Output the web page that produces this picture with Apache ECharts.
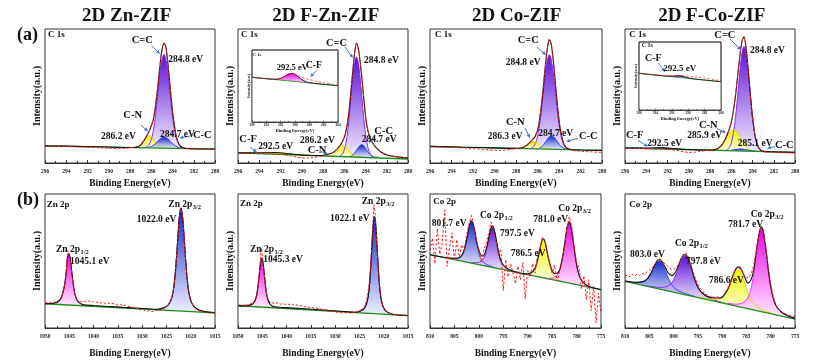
<!DOCTYPE html>
<html><head><meta charset="utf-8">
<script src="https://cdn.jsdelivr.net/npm/echarts@6/dist/echarts.min.js"></script>
<style>html,body{margin:0;padding:0;background:#fff}#c{width:830px;height:364px}</style>
</head><body><div id="c"></div>
<script>
// ===================== DATA =====================
// axis ranges [min, max, step]
const c1sRange = [280, 296, 2];
const zn2pRange = [1015, 1050, 5];
const co2pRange = [775, 810, 5];
const inset2Range = [284, 296, 2];
const inset4Range = [286, 296, 2];

// ---- (a) 2D Zn-ZIF, C 1s ----
const a1Base = [[296,12.8],[280,10.4]];
const a1CeqC = [[287.0,11.45],[286.5,11.7],[286.1,15.4],[285.8,24.5],[285.6,35.4],[285.4,49.7],[285.2,64.9],[285.0,76.6],[284.8,81],[284.6,76.6],[284.4,64.9],[284.2,49.7],[284.0,35.4],[283.8,24.5],[283.5,15.4],[283.1,11.6],[282.6,10.8]];
const a1CN = [[287.6,11.6],[287.4,11.7],[287.1,12.5],[286.8,15],[286.5,18.6],[286.2,20.4],[285.9,18.6],[285.6,15],[285.3,12.5],[285.0,11.5],[284.7,11.2]];
const a1CC = [[286.6,11.3],[286.4,11.45],[286.0,12.3],[285.6,14.5],[285.2,17.7],[284.8,19.4],[284.4,17.7],[284.0,14.5],[283.6,12.2],[283.2,11.2],[282.8,10.9]];
const a1Env = [[296,12.8],[293,12.4],[290,11.9],[288,11.6],[287.5,11.6],[287.0,13.3],[286.6,17.9],[286.2,23.6],[285.8,32.5],[285.5,48.5],[285.2,71],[285.0,84],[284.8,89.4],[284.6,85.5],[284.3,63.2],[284.0,38.7],[283.7,22],[283.4,14.2],[283.0,11.3],[282.5,10.8],[280,10.4]];
const a1Raw = [[296,12.4],[295,12.5],[294,12.3],[293,12.0],[292,11.8],[291,11.4],[290,11.0],[289,10.7],[288.5,10.9],[288,11.4],[287.5,12],[287.0,13.8],[286.6,18],[286.2,23.8],[285.8,33],[285.5,49],[285.2,71.5],[285.0,84.5],[284.8,89.8],[284.6,85],[284.3,63],[284.0,38.5],[283.7,22],[283.4,14],[283.0,11],[282.5,10.5],[282,10.4],[281,10.3],[280,10.2]];

// ---- (a) 2D F-Zn-ZIF, C 1s ----
const a2Base = [[296,7.5],[280,3.0]];
const a2CF = [[296,7.55],[295.5,7.45],[294.5,7.4],[293.5,7.7],[292.5,7.8],[291.5,7.2],[290.5,6.3],[289.5,5.75],[289,5.6]];
const a2CeqC = [[286.95,5.0],[286.55,4.9],[286.15,7],[285.85,14.6],[285.65,25.2],[285.45,40.9],[285.25,58.8],[285.05,73.4],[284.85,79.1],[284.65,73.4],[284.45,58.6],[284.25,40.7],[284.05,25],[283.85,14.4],[283.55,6.8],[283.15,4.5],[282.75,4.3]];
const a2CN = [[287.8,5.2],[287.4,5.05],[287.0,6.3],[286.7,8.7],[286.4,11.5],[286.1,12.9],[285.8,11.5],[285.5,8.7],[285.2,6.3],[284.8,5.0],[284.5,4.4]];
const a2CC = [[285.55,4.55],[285.25,5.6],[284.95,8.2],[284.65,11.9],[284.35,13.7],[284.05,11.7],[283.75,8.0],[283.45,5.4],[283.15,4.0]];
const a2Env = [[296,7.55],[294,7.55],[292.5,7.8],[291,6.7],[289.5,5.75],[288.5,5.6],[288,5.8],[287.5,6.5],[287.0,8.0],[286.6,11],[286.2,15.5],[285.9,21.5],[285.6,35],[285.3,59.5],[285.05,80],[284.85,89.5],[284.65,84],[284.4,68],[284.15,47],[283.9,29],[283.6,19],[283.3,14.5],[283.0,11.5],[282.5,8],[282,6],[281,4.6],[280,3.8]];
const a2Raw = [[296,7.3],[295,7.4],[294,7.2],[293,6.9],[292,6.5],[291,5.3],[290.5,4.5],[290,3.9],[289.5,3.7],[289,4.0],[288.5,4.6],[288,5.4],[287.5,6.4],[287.0,8.2],[286.6,11.5],[286.2,16],[285.9,22],[285.6,35.5],[285.3,60],[285.05,80.5],[284.85,89.8],[284.65,84.5],[284.4,68],[284.15,47.5],[283.9,29.5],[283.6,19.3],[283.3,14.3],[283.0,11.2],[282.5,7.8],[282,5.8],[281,4.5],[280,3.6]];
const a2InsetBase = [[296,62],[284,50.4]];
const a2InsetCF = [[294,60.1],[293.4,59.55],[292.8,59.3],[292.2,59.9],[291.6,62.45],[291.0,66.1],[290.4,67.6],[289.8,64.9],[289.2,60.1],[288.6,56.45],[288.0,54.6],[287.4,53.75],[286.8,53.1]];
const a2InsetEnv = [[296,62],[294,60.1],[293.4,59.55],[292.8,59.3],[292.2,59.9],[291.6,62.45],[291.0,66.1],[290.4,67.6],[289.8,64.9],[289.2,60.1],[288.6,56.45],[288.0,54.6],[287.4,53.75],[286,52.3],[284,50.4]];
const a2InsetRaw = [[296,62.5],[295,61.3],[294,60.4],[293,59.8],[292,60.5],[291,64.5],[290.5,66.5],[290,66],[289.5,64],[289,62],[288.5,60.5],[288,59],[287,56.5],[286,54.5],[285,52.8],[284,51.2]];

// ---- (a) 2D Co-ZIF, C 1s ----
const a3Base = [[296,12.4],[280,9.4]];
const a3CeqC = [[287.0,10.65],[286.6,10.9],[286.2,14.6],[285.9,23.8],[285.7,34.8],[285.5,49.2],[285.3,64.4],[285.1,76.3],[284.9,80.8],[284.7,76.3],[284.5,64.4],[284.3,49.2],[284.1,34.8],[283.9,23.8],[283.6,14.6],[283.2,10.8],[282.8,10.0]];
const a3CN = [[288.1,10.9],[287.7,10.85],[287.3,11.7],[287.0,13.3],[286.7,15.2],[286.4,16.1],[286.1,15.2],[285.8,13.3],[285.5,11.7],[285.1,10.8],[284.7,10.3]];
const a3CC = [[286.4,10.55],[286.0,10.6],[285.6,12.3],[285.3,15.2],[285.0,18.7],[284.7,20.4],[284.4,18.7],[284.1,15.2],[283.8,12.3],[283.4,10.5],[283.0,10.1]];
const a3Env = [[296,12.4],[293,11.8],[290,11.3],[288,10.9],[287.5,11.2],[287.0,13.3],[286.6,16.3],[286.2,20],[285.9,27.8],[285.6,45.3],[285.3,70],[285.1,84.5],[284.9,92],[284.7,87.5],[284.5,74],[284.3,56.4],[284.1,39.6],[283.9,26.4],[283.6,15.3],[283.3,11.2],[282.8,9.9],[282,9.7],[280,9.4]];
const a3Raw = [[296,12.0],[295,11.9],[294,11.6],[293,11.3],[292,10.8],[291,10.1],[290,9.5],[289.5,9.3],[289,9.6],[288.5,10.2],[288,10.8],[287.5,11.3],[287.0,13.4],[286.6,16.5],[286.2,20.3],[285.9,28],[285.6,45.5],[285.3,70.5],[285.1,85],[284.9,92.5],[284.7,88],[284.5,74],[284.3,56],[284.1,39],[283.9,26],[283.6,15],[283.3,10.8],[282.8,9.4],[282,8.8],[281,8.3],[280,7.9]];

// ---- (a) 2D F-Co-ZIF, C 1s ----
const a4Base = [[296,11.2],[280,7.9]];
const a4CF = [[295.5,11.1],[295,11.03],[294,11.05],[293,11.3],[292.5,11.28],[292,11.08],[291,10.44],[290,10.0],[289.5,9.9]];
const a4CeqC = [[286.9,9.35],[286.5,9.4],[286.1,12.7],[285.8,22.1],[285.6,33.9],[285.4,50],[285.2,67.6],[285.0,81.5],[284.8,87],[284.6,81.5],[284.4,67.6],[284.2,50],[284.0,33.9],[283.8,22.1],[283.5,12.7],[283.1,9.3],[282.7,8.5]];
const a4CN = [[288.4,9.7],[287.8,9.5],[287.4,10.1],[287.0,12.4],[286.6,17],[286.2,22.3],[285.8,24.8],[285.4,22.1],[285.0,16.6],[284.6,12],[284.2,9.8],[283.8,9.0],[283.4,8.7]];
const a4CC = [[287,9.3],[286.4,9.2],[285.8,9.8],[285.1,10.45],[284.4,9.6],[283.8,8.8],[283.2,8.6]];
const a4Env = [[296,11.2],[294,11.05],[292.5,11.3],[291,10.45],[289.5,9.9],[288.5,9.6],[287.5,10.0],[287.0,12.4],[286.6,17.2],[286.2,24.8],[285.9,34.1],[285.6,50],[285.3,72],[285.0,90.5],[284.8,94],[284.6,85.5],[284.3,60.5],[284.0,34.3],[283.7,17.8],[283.4,11],[283.0,8.7],[282,8.3],[280,7.9]];
const a4Raw = [[296,10.8],[295,10.9],[294,10.8],[293,10.6],[292,10.2],[291,9.3],[290.5,8.4],[290,7.9],[289.5,8.0],[289,8.6],[288.5,9.2],[288,9.6],[287.5,10.1],[287.0,12.6],[286.6,17.5],[286.2,25],[285.9,34],[285.6,50.5],[285.3,72.5],[285.0,90.8],[284.8,94.5],[284.6,85],[284.3,60],[284.0,34],[283.7,17.5],[283.4,10.8],[283.0,8.4],[282,7.9],[281,7.6],[280,7.4]];
const a4InsetBase = [[296,53.9],[286,41.6]];
const a4InsetCF = [[292.6,49.72],[292.2,49.57],[291.8,49.75],[291.4,50.24],[291.0,50.25],[290.6,49.26],[290.2,47.79],[289.8,46.6],[289.4,45.8]];
const a4InsetEnv = [[296,53.9],[292.6,49.75],[292.2,49.6],[291.8,49.8],[291.4,50.3],[291.0,50.3],[290.6,49.3],[290.2,47.8],[289.8,46.6],[289.4,45.8],[286,41.6]];
const a4InsetRaw = [[296,54.5],[295,52.5],[294,51.8],[293,50.8],[292,50.3],[291,50.8],[290,49.5],[289,48.4],[288,47],[287,45],[286,43]];

// ---- (b) 2D Zn-ZIF, Zn 2p ----
const b1Base = [[1050,18.1],[1015,11.3]];
const b1Zn12 = [[1048.8,17.9],[1048.1,18.5],[1047.3,19.5],[1046.7,22.1],[1046.3,26.6],[1045.9,33.4],[1045.6,42.5],[1045.4,51.7],[1045.1,55.4],[1044.8,51.6],[1044.5,42.3],[1044.2,33.1],[1043.9,26.1],[1043.5,21.4],[1042.9,18.6],[1042.1,17.3],[1041.2,16.5]];
const b1Zn32 = [[1027,13.65],[1025.6,14.9],[1024.64,17.0],[1023.92,22.3],[1023.44,31.4],[1023.08,45.2],[1022.72,63.5],[1022.36,81.9],[1022.0,89.5],[1021.64,81.7],[1021.28,63.2],[1020.92,44.8],[1020.56,30.8],[1020.08,21.5],[1019.36,16.0],[1018.4,13.5],[1017,11.8]];
const b1Env = [[1050,18.2],[1049,18.1],[1048.1,18.6],[1047.3,19.6],[1046.7,22.2],[1046.3,26.7],[1045.9,33.5],[1045.6,42.6],[1045.4,51.8],[1045.1,55.5],[1044.8,51.7],[1044.5,42.4],[1044.2,33.2],[1043.9,26.2],[1043.5,21.5],[1042.9,18.7],[1042.1,17.4],[1040,16.8],[1037,16.1],[1034,15.4],[1030,14.6],[1027,14.0],[1025.6,15.1],[1024.64,17.2],[1023.92,22.4],[1023.44,31.5],[1023.08,45.3],[1022.72,63.6],[1022.36,82],[1022.0,89.6],[1021.64,81.8],[1021.28,63.3],[1020.92,44.9],[1020.56,30.9],[1020.08,21.6],[1019.36,16.1],[1018.4,13.6],[1017,12.2],[1015,11.4]];
const b1Raw = [[1050,18.5],[1049.5,19.2],[1049,18.8],[1048.5,19.6],[1048,19.2],[1047.5,20.3],[1047,21],[1046.5,24],[1046,30],[1045.6,43],[1045.3,57.9],[1045.0,55],[1044.7,48],[1044.4,38],[1044,28],[1043.5,21.5],[1043,20],[1042.5,19.5],[1042,20.3],[1041.5,19.4],[1041,20.2],[1040.5,19.1],[1040,19.8],[1039.5,18.8],[1039,19.5],[1038.5,18.6],[1038,19.1],[1037.5,18.2],[1037,18.7],[1036.5,17.8],[1036,18.3],[1035.5,17.5],[1035,17.1],[1034.5,17.6],[1034,16.5],[1033.5,16.9],[1033,15.9],[1032.5,16.2],[1032,15.2],[1031.5,15.6],[1031,14.4],[1030.5,13.6],[1030,14.1],[1029.5,13.0],[1029,12.5],[1028.5,13.1],[1028,12.2],[1027.5,12.8],[1027,13.2],[1026.5,13.0],[1026,13.6],[1025.5,14.5],[1025,16],[1024.5,17.5],[1024,21],[1023.5,30],[1023.1,45],[1022.7,64],[1022.4,82],[1022.1,89.8],[1021.8,86],[1021.5,77],[1021.2,58],[1020.9,43],[1020.5,29],[1020,20.5],[1019.5,16.5],[1019,14.5],[1018.5,13.2],[1018,12.4],[1017.5,12.8],[1017,11.6],[1016.5,12.1],[1016,11.0],[1015.5,11.6],[1015,10.6]];

// ---- (b) 2D F-Zn-ZIF, Zn 2p ----
const b2Base = [[1050,16.6],[1015,9.2]];
const b2Zn12 = [[1048.5,16.3],[1047.7,16.9],[1047.0,17.8],[1046.49,20.3],[1046.14,24.6],[1045.88,31.2],[1045.62,39.9],[1045.36,48.6],[1045.1,52.2],[1044.84,48.5],[1044.58,39.7],[1044.32,30.8],[1044.06,24.1],[1043.71,19.7],[1043.2,17.0],[1042.5,15.7],[1041.5,15.1]];
const b2Zn32 = [[1026,11.5],[1024.7,12.7],[1023.95,14.7],[1023.4,19.7],[1023.02,28.3],[1022.74,41.3],[1022.46,58.7],[1022.18,76.0],[1021.9,83.3],[1021.62,75.9],[1021.34,58.4],[1021.06,41.0],[1020.78,27.8],[1020.4,19.1],[1019.85,13.8],[1019.1,11.5],[1018,10.0]];
const b2Env = [[1050,16.7],[1049,16.5],[1048,16.4],[1047.7,16.95],[1047.0,17.85],[1046.49,20.35],[1046.14,24.65],[1045.88,31.25],[1045.62,39.95],[1045.36,48.65],[1045.1,52.25],[1044.84,48.55],[1044.58,39.75],[1044.32,30.85],[1044.06,24.15],[1043.71,19.75],[1043.2,17.05],[1042.5,15.8],[1040,15.2],[1037,14.5],[1034,13.8],[1031,13.0],[1028,12.3],[1026,11.7],[1024.7,12.8],[1023.95,14.8],[1023.4,19.8],[1023.02,28.4],[1022.74,41.4],[1022.46,58.8],[1022.18,76.1],[1021.9,83.4],[1021.62,76],[1021.34,58.5],[1021.06,41.1],[1020.78,27.9],[1020.4,19.2],[1019.85,13.9],[1019.1,11.6],[1018,10.1],[1015,9.3]];
const b2Raw = [[1050,16.8],[1049.5,17.4],[1049,16.9],[1048.5,17.6],[1048,17.2],[1047.5,17.9],[1047,18.6],[1046.5,21],[1046.1,26],[1045.8,34],[1045.5,46],[1045.2,59.7],[1044.95,53],[1044.7,44],[1044.4,33],[1044.1,25],[1043.7,20.5],[1043.3,19],[1042.8,18.7],[1042.3,18.2],[1041.8,18.9],[1041.3,17.7],[1040.8,18.4],[1040.3,17.6],[1039.8,18.1],[1039.3,17.2],[1038.8,17.7],[1038.3,16.8],[1037.8,17.2],[1037.3,16.3],[1036.8,16.7],[1036.3,15.8],[1035.8,16.1],[1035.3,15.3],[1034.8,15.5],[1034.3,14.6],[1033.8,14.9],[1033.3,13.9],[1032.8,14.2],[1032.3,13.3],[1031.8,13.6],[1031.3,12.7],[1030.8,12.1],[1030.3,12.6],[1029.8,11.6],[1029.3,12.2],[1028.8,11.3],[1028.3,11.8],[1027.8,11.2],[1027.3,11.5],[1026.8,11.0],[1026.3,11.4],[1025.8,11.9],[1025.3,12.3],[1024.8,13.2],[1024.3,14.5],[1023.9,16.5],[1023.5,21],[1023.1,30],[1022.8,42],[1022.5,60],[1022.2,80],[1022.0,92],[1021.75,85],[1021.5,68],[1021.2,50],[1020.9,35],[1020.6,24],[1020.2,17],[1019.8,13.8],[1019.3,12],[1018.8,11],[1018.3,10.6],[1017.8,10.1],[1017.3,10.4],[1016.8,9.7],[1016.3,10.0],[1015.8,9.3],[1015.3,9.6],[1015,9.0]];

// ---- (b) 2D Co-ZIF, Co 2p ----
const b3Base = [[810,54.7],[775,28.6]];
const b3Blue = [[806.5,52.1],[805.5,52.0],[804.43,52.1],[803.63,53.7],[803.1,57.0],[802.7,62.35],[802.3,69.55],[801.9,76.75],[801.5,79.6],[801.1,76.15],[800.7,68.35],[800.3,60.55],[799.9,54.65],[799.37,50.5],[798.57,47.7],[797.5,46.0],[796.5,44.6]];
const b3Purple = [[802.2,48.9],[801.2,48.75],[800.13,48.9],[799.33,50.4],[798.8,53.7],[798.4,58.9],[798.0,65.9],[797.6,72.95],[797.2,75.75],[796.8,72.35],[796.4,64.75],[796.0,57.1],[795.6,51.3],[795.07,47.2],[794.27,44.5],[793.2,42.8],[792.2,41.6]];
const b3Yellow = [[791.8,41.1],[790.8,40.36],[789.73,40.43],[788.93,41.86],[788.4,44.95],[788.0,49.9],[787.6,56.5],[787.2,63.2],[786.8,65.8],[786.4,62.6],[786.0,55.3],[785.6,48.1],[785.2,42.56],[784.67,38.7],[783.87,36.06],[782.8,34.4],[781.8,33.7]];
const b3Mag = [[786.9,37.5],[785.9,37.0],[784.73,37.56],[783.85,40.14],[783.26,45.26],[782.82,53.23],[782.38,64.0],[781.94,74.77],[781.5,79.04],[781.06,74.1],[780.62,62.68],[780.18,51.25],[779.74,42.62],[779.15,36.62],[778.27,32.74],[777.1,30.47],[776.1,29.5]];
const b3Env = [[810,54.7],[807,52.6],[805.5,52.0],[804.4,52.1],[803.6,53.7],[803.1,57.0],[802.7,62.4],[802.3,69.6],[801.9,77.0],[801.5,80.0],[801.1,76.7],[800.7,69.4],[800.3,62.1],[799.9,57.0],[799.5,53.8],[799.1,53.8],[798.7,56.4],[798.3,61.6],[797.9,68.6],[797.5,74.8],[797.2,76.3],[796.8,72.75],[796.4,64.8],[796.0,57.1],[795.6,51.3],[795.07,47.2],[794.27,44.5],[793.2,42.8],[792,41.4],[791,40.6],[790.0,40.4],[789.4,41.0],[788.9,42.5],[788.4,45.4],[788.0,50.4],[787.6,57.1],[787.2,63.9],[786.8,66.6],[786.4,63.6],[786.0,56.5],[785.6,49.6],[785.2,44.6],[784.8,41.5],[784.4,40.5],[784.0,40.8],[783.6,42.3],[783.26,46.0],[782.82,53.7],[782.38,64.3],[781.94,75.0],[781.5,79.2],[781.06,74.1],[780.62,62.7],[780.18,51.25],[779.74,42.6],[779.15,36.6],[778.27,32.7],[777.1,30.5],[775,28.6]];
const b3Raw = [[810,58],[809.5,67],[809,48],[808.5,74],[808,55],[807.5,63],[807,88],[806.5,46],[806,60],[805.5,71],[805,50],[804.5,66],[804,53],[803.5,62],[803,58],[802.5,70],[802,78],[801.5,84],[801,76],[800.5,66],[800,57],[799.5,49],[799,58],[798.5,63],[798,71],[797.5,79],[797,72],[796.5,65],[796,54],[795.5,59],[795,28],[794.5,51],[794,38],[793.5,48],[793,41],[792.5,33],[792,46],[791.5,36],[791,49],[790.5,22],[790,43],[789.5,38],[789,48],[788.5,41],[788,54],[787.5,59],[787,68],[786.5,65],[786,56],[785.5,49],[785,41],[784.5,47],[784,35],[783.5,42],[783,51],[782.5,59],[782,74],[781.5,83],[781,76],[780.5,61],[780,49],[779.5,45],[779,29],[778.5,39],[778,21],[777.5,36],[777,13],[776.5,31],[776,4],[775.5,26],[775,11]];

// ---- (b) 2D F-Co-ZIF, Co 2p ----
const b4Base = [[810,34.8],[775,6.7]];
const b4Blue = [[810,35.1],[809.3,34.66],[807.59,33.9],[806.31,34.4],[805.46,36.2],[804.82,39.5],[804.18,44.0],[803.54,48.6],[802.9,50.2],[802.26,47.6],[801.62,42.0],[800.98,36.4],[800.34,32.1],[799.49,28.9],[798.21,26.4],[796.5,24.4],[795.5,23.4]];
const b4Purple = [[806,31.8],[804.4,30.9],[802.59,30.3],[801.23,31.25],[800.32,34.0],[799.64,38.8],[798.96,45.2],[798.28,51.7],[797.6,54.0],[796.92,50.6],[796.24,43.05],[795.56,35.5],[794.88,29.66],[793.97,25.4],[792.61,22.3],[790.8,19.96],[789.5,18.6]];
const b4Yellow = [[795,23.0],[793.5,22.1],[791.69,21.47],[790.33,22.3],[789.42,24.85],[788.74,29.2],[788.06,35.3],[787.38,41.3],[786.7,43.5],[786.02,40.2],[785.34,33.1],[784.66,25.95],[783.98,20.5],[783.07,16.46],[781.71,13.45],[779.9,11.2],[778.5,9.7]];
const b4Mag = [[789,18.5],[787.3,17.8],[785.86,18.5],[784.78,22.05],[784.06,29.0],[783.52,39.8],[782.98,54.5],[782.44,69.1],[781.9,74.9],[781.36,68.2],[780.82,52.8],[780.28,37.2],[779.74,25.5],[779.02,17.4],[777.94,12.2],[776.5,9.15],[775,7.4]];
const b4Env = [[810,35.1],[808,34.1],[806.3,34.6],[805.5,36.5],[804.8,40.0],[804.2,44.6],[803.5,49.5],[802.9,51.3],[802.3,49.1],[801.6,44.5],[801.0,40.5],[800.3,39.1],[799.6,41.8],[799.0,46.4],[798.3,52.8],[797.6,54.8],[796.9,51.1],[796.2,43.4],[795.6,35.8],[794.9,29.9],[794.0,25.75],[792.6,22.9],[791.7,22.5],[790.8,22.4],[790.0,22.8],[789.4,25.6],[788.7,29.8],[788.1,36.0],[787.4,42.5],[786.7,45.4],[786.0,43.1],[785.3,37.6],[784.7,33.5],[784.1,35.6],[783.5,43.1],[783.0,56.5],[782.4,70.3],[781.9,75.8],[781.4,68.8],[780.8,53.2],[780.3,37.5],[779.7,25.7],[779.0,17.4],[777.9,12.15],[776.5,9.15],[775,7.2]];
const b4Raw = [[810,38.5],[809.5,39.6],[809,38.2],[808.5,40.1],[808,38.9],[807.5,40.3],[807,39.2],[806.5,40.8],[806,39.9],[805.5,41.8],[805,42.9],[804.5,44.6],[804,46.8],[803.5,49.6],[803,51.8],[802.5,50.6],[802,48.7],[801.5,47.0],[801,45.3],[800.5,44.0],[800,43.6],[799.5,44.8],[799,47.5],[798.5,51.5],[798,55.2],[797.5,56.5],[797,53.5],[796.5,48],[796,42.5],[795.5,37],[795,32.5],[794.5,29.5],[794,27.5],[793.5,25],[793,24.5],[792.5,23.2],[792,23.8],[791.5,22.5],[791,23.4],[790.5,22.1],[790,23.5],[789.5,25.8],[789,28.5],[788.5,32],[788,36.5],[787.5,41.5],[787,45],[786.5,46.5],[786,44],[785.5,40],[785,37.5],[784.5,37.5],[784,40.5],[783.5,47],[783,57],[782.5,68],[782,76],[781.5,74],[781,60],[780.5,46],[780,33],[779.5,24],[779,18],[778.5,14.5],[778,12.5],[777.5,11],[777,10.5],[776.5,9.8],[776,9.2],[775.5,8.5],[775,8.7]];

// ===================== LAYOUT / STYLE =====================
const FONT = "'Liberation Serif','Times New Roman',Times,serif";
const COL = {
  purple: ['#5a10d8', '#8f2cec', '#f3ecff'],
  blue: ['#1226c9', '#2a46f5', '#edf0ff'],
  yellow: ['#f2f200', '#dcdc00', '#fffff2'],
  magenta: ['#ec00ec', '#ff22ff', '#ffeeff']
};
const GREEN = '#1c8c1c', RED = '#ff1f1f', ARROW = '#3b78d8';

const panels = [
  {rect:[45,29,170,134], range:c1sRange, base:a1Base, comps:[[a1CeqC,'purple'],[a1CN,'yellow'],[a1CC,'blue']], env:a1Env, raw:a1Raw, gap:16},
  {rect:[238,29,170,134], range:c1sRange, base:a2Base, comps:[[a2CF,'yellow'],[a2CeqC,'purple'],[a2CN,'yellow'],[a2CC,'blue']], env:a2Env, raw:a2Raw, gap:16},
  {rect:[430,29,172,134], range:c1sRange, base:a3Base, comps:[[a3CeqC,'purple'],[a3CN,'yellow'],[a3CC,'blue']], env:a3Env, raw:a3Raw, gap:16},
  {rect:[625,29,170,134], range:c1sRange, base:a4Base, comps:[[a4CF,'blue'],[a4CeqC,'purple'],[a4CN,'yellow'],[a4CC,'blue']], env:a4Env, raw:a4Raw, gap:16},
  {rect:[45,194,170,134], range:zn2pRange, base:b1Base, comps:[[b1Zn12,'magenta'],[b1Zn32,'blue']], env:b1Env, raw:b1Raw, gap:21, noisy:true},
  {rect:[238,194,170,134], range:zn2pRange, base:b2Base, comps:[[b2Zn12,'magenta'],[b2Zn32,'blue']], env:b2Env, raw:b2Raw, gap:21, noisy:true},
  {rect:[430,194,171,134], range:co2pRange, base:b3Base, comps:[[b3Blue,'blue'],[b3Purple,'purple'],[b3Yellow,'yellow'],[b3Mag,'magenta']], env:b3Env, raw:b3Raw, gap:21, noisy:true},
  {rect:[625,194,170,134], range:co2pRange, base:b4Base, comps:[[b4Blue,'blue'],[b4Purple,'purple'],[b4Yellow,'yellow'],[b4Mag,'magenta']], env:b4Env, raw:b4Raw, gap:21, noisy:true},
  {rect:[252,50,86,72], range:inset2Range, base:a2InsetBase, comps:[[a2InsetCF,'magenta']], env:a2InsetEnv, raw:a2InsetRaw, gap:3.5, inset:true},
  {rect:[639,42,82,68], range:inset4Range, base:a4InsetBase, comps:[[a4InsetCF,'purple']], env:a4InsetEnv, raw:a4InsetRaw, gap:3.5, inset:true}
];

const grids = [], xAxes = [], yAxes = [], series = [], gfx = [];

function compSeries(gi, d, c, z, inset) {
  const ys = d.map(v => v[1]);
  const mx = Math.max(...ys), mn = Math.min(...ys);
  const f = Math.max(0.05, Math.min(0.97, (mx - mn) / mx));
  return {type:'line', xAxisIndex:gi, yAxisIndex:gi, data:d, smooth:0.35, symbol:'none', z, silent:true,
    lineStyle:{color:COL[c][1], width: inset ? 0.7 : 1},
    areaStyle:{opacity:1, color:{type:'linear', x:0, y:0, x2:0, y2:1,
      colorStops:[{offset:0, color:COL[c][0]}, {offset:f, color:COL[c][2]}, {offset:1, color:'#ffffff'}]}}};
}
function lineSeries(gi, d, color, width, type, z, smooth) {
  return {type:'line', xAxisIndex:gi, yAxisIndex:gi, data:d, smooth, symbol:'none', z, silent:true,
    lineStyle:{color, width, type}};
}

panels.forEach(p => {
  const gi = grids.length;
  const ins = !!p.inset;
  grids.push({left:p.rect[0], top:p.rect[1], width:p.rect[2], height:p.rect[3], show:true,
    z: ins ? 5 : 10, backgroundColor: ins ? '#ffffff' : 'transparent', borderColor:'#333', borderWidth: ins ? 0.8 : 1});
  xAxes.push({type:'value', gridIndex:gi, min:p.range[0], max:p.range[1], interval:p.range[2], inverse:true, z:20,
    axisLine:{show:true, onZero:false, lineStyle:{color:'#333', width: ins ? 0.8 : 1}},
    axisTick:{show:true, inside:true, length: ins ? 1.5 : 3, lineStyle:{color:'#333', width: ins ? 0.6 : 1}},
    minorTick:{show:true, splitNumber:2, length: ins ? 1 : 2, lineStyle:{color:'#333', width: ins ? 0.6 : 1}},
    axisLabel:{fontSize: ins ? 3.5 : 5.5, fontWeight:'bold', fontFamily:FONT, color:'#222', margin: ins ? 1.5 : 5.5,
      formatter: v => String(v)},
    splitLine:{show:false}, minorSplitLine:{show:false},
    name:'Binding Energy(eV)', nameLocation:'middle', nameGap:p.gap,
    nameTextStyle:{fontSize: ins ? 4.5 : 9.5, fontWeight:'bold', fontFamily:FONT, color:'#111'}});
  yAxes.push({type:'value', gridIndex:gi, min:0, max:100, z:20,
    axisLine:{show:false}, axisTick:{show:false}, axisLabel:{show:false}, splitLine:{show:false},
    name:'Intensity(a.u.)', nameLocation:'middle', nameGap: ins ? 1.5 : 3,
    nameTextStyle:{fontSize: ins ? 4 : 10, fontWeight:'bold', fontFamily:FONT, color:'#111'}});
  const zb = ins ? 6 : 2;
  p.comps.forEach(([d, c]) => series.push(compSeries(gi, d, c, zb, ins)));
  series.push({type:'line', xAxisIndex:gi, yAxisIndex:gi, data:p.base, symbol:'none', z:zb + 1, silent:true,
    lineStyle:{width:0, opacity:0}, areaStyle:{color:'#ffffff', opacity:1}});
  series.push(lineSeries(gi, p.base, GREEN, ins ? 0.8 : 1.3, 'solid', zb + 2, false));
  series.push(lineSeries(gi, p.env, '#111', ins ? 0.8 : 1.1, 'solid', zb + 3, 0.3));
  series.push(lineSeries(gi, p.raw, RED, ins ? 0.7 : 1, [2.5, 1.8], zb + 4, p.noisy ? false : 0.2));
  if (ins) gfx.push({type:'rect', z:40, silent:true, shape:{x:p.rect[0], y:p.rect[1], width:p.rect[2], height:p.rect[3]},
    style:{fill:'none', stroke:'#333', lineWidth:0.8}});
});

// ----- text annotations: [x, y, text, size] -----
const notes = [
  [48,35,'C 1s',9],[131.7,40.7,'C=C',10.5],[168.3,60,'284.8 eV',9.5],[123.3,115,'C-N',10.5],[101,136.7,'286.2 eV',9.5],[160,135,'284.7 eV',9.5],[193,135,'C-C',10.5],
  [241,35,'C 1s',9],[326,43.3,'C=C',10.5],[364,60.7,'284.8 eV',9.5],[374.3,131.7,'C-C',10.5],[361.7,140,'284.7 eV',9.5],[300,140.7,'286.2 eV',9.5],[307.7,150,'C-N',10.5],[239.3,139.3,'C-F',10.5],[258.3,146.7,'292.5 eV',9.5],
  [253,54.5,'C 1s',4.5],[276.7,67.3,'292.5 eV',8.5],[306,65.7,'C-F',9.5],
  [435,34.3,'C 1s',9],[517.7,40.7,'C=C',10.5],[505.7,62.7,'284.8 eV',9.5],[506,122.3,'C-N',10.5],[487.7,136.7,'286.3 eV',9.5],[538.3,133.3,'284.7 eV',9.5],[579,136.7,'C-C',10.5],
  [629.3,34.3,'C 1s',9],[714.3,35,'C=C',10.5],[750,51,'284.8 eV',9.5],[699,125.7,'C-N',10.5],[687.3,136,'285.9 eV',9.5],[737.7,143.3,'285.1 eV',9.5],[775,145.7,'C-C',10.5],[626,135.7,'C-F',10.5],[647.3,143.3,'292.5 eV',9.5],
  [641.7,45.5,'C 1s',6],[645,58.3,'C-F',10],[663.3,68.3,'292.5 eV',9],
  [46.7,205,'Zn 2p',9],[168.3,205,'Zn 2p{s|3/2}',9.5],[136.7,220,'1022.0 eV',9.5],[56,249.3,'Zn 2p{s|1/2}',9.5],[70,261.7,'1045.1 eV',9.5],
  [240,203.3,'Zn 2p',9],[361.7,201.7,'Zn 2p{s|3/2}',9.5],[330,218.3,'1022.1 eV',9.5],[250,249.3,'Zn 2p{s|1/2}',9.5],[263.3,260,'1045.3 eV',9.5],
  [433.3,201.7,'Co 2p',9],[480,216,'Co 2p{s|1/2}',9.5],[431.7,224,'801.7 eV',9.5],[500,233.3,'797.5 eV',9.5],[533.3,220,'781.0 eV',9.5],[558.3,208.3,'Co 2p{s|3/2}',9.5],[510.7,253.3,'786.5 eV',9.5],
  [629.3,205,'Co 2p',9],[750.7,214.3,'Co 2p{s|3/2}',9.5],[728.3,225,'781.7 eV',9.5],[675,243.3,'Co 2p{s|1/2}',9.5],[630,255,'803.0 eV',9.5],[686,261.7,'797.8 eV',9.5],[709,281,'786.6 eV',9.5]
];
notes.forEach(([x, y, t, s]) => gfx.push({type:'text', x, y, z:50, silent:true,
  style:{text:t, fontSize:s, fontWeight:'bold', fontFamily:FONT, fill:'#111', align:'left', verticalAlign:'middle',
    rich:{s:{fontSize:s * 0.68, fontWeight:'bold', fontFamily:FONT, fill:'#111', padding:[s * 0.55, 0, 0, 0.5]}}}}));

// ----- arrows: [x1, y1, x2, y2] -----
const arrows = [
  [152,46,160,54],[141,125,148,131.5],[190,136,179,138],
  [345,47,353,58],[375,136,369,143],[321,151.5,328,154],[250,147,257,152.5],[316.7,70.7,310,77],
  [537,47,546,55],[525,128,530,138],[578,138.5,566,141.5],
  [730,39,741,50],[717,128.5,726,133],[775,146.5,767,148.5],[638,140.5,648,146.5],[658.5,63,665,72]
];
arrows.forEach(([x1, y1, x2, y2]) => {
  const a = Math.atan2(y2 - y1, x2 - x1), L = 4, W = 1.8;
  const bx = x2 - L * Math.cos(a), by = y2 - L * Math.sin(a);
  gfx.push({type:'line', z:45, silent:true, shape:{x1, y1, x2:bx, y2:by}, style:{stroke:ARROW, lineWidth:1}});
  gfx.push({type:'polygon', z:45, silent:true, shape:{points:[[x2, y2], [bx + W * Math.sin(a), by - W * Math.cos(a)], [bx - W * Math.sin(a), by + W * Math.cos(a)]]}, style:{fill:ARROW}});
});

// ----- titles and panel letters -----
const titles = [[126.7,'2D Zn-ZIF'],[325.8,'2D F-Zn-ZIF'],[516.7,'2D Co-ZIF'],[711.7,'2D F-Co-ZIF']];
titles.forEach(([x, t]) => gfx.push({type:'text', x, y:16, z:50, silent:true,
  style:{text:t, fontSize:19, fontWeight:'bold', fontFamily:FONT, fill:'#111', align:'center', verticalAlign:'middle'}}));
[[17,35,'(a)'],[17,200,'(b)']].forEach(([x, y, t]) => gfx.push({type:'text', x, y, z:50, silent:true,
  style:{text:t, fontSize:18, fontWeight:'bold', fontFamily:FONT, fill:'#111', align:'left', verticalAlign:'middle'}}));

const chart = echarts.init(document.getElementById('c'), null, {renderer:'canvas'});
chart.setOption({
  animation:false,
  backgroundColor:'#ffffff',
  textStyle:{fontFamily:FONT},
  grid:grids, xAxis:xAxes, yAxis:yAxes, series,
  graphic:{elements:gfx}
});
</script></body></html>
